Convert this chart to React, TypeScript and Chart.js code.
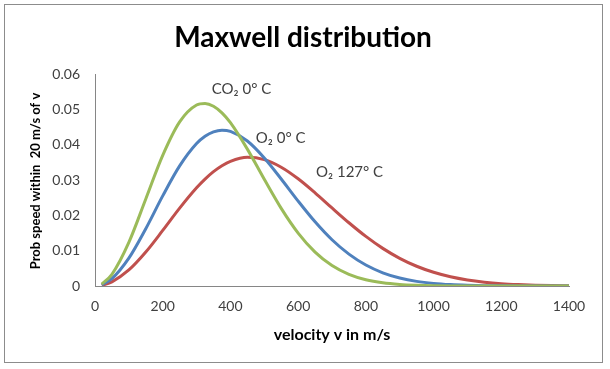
import React, { useEffect, useRef } from "react";
import { Chart, registerables } from "chart.js";

Chart.register(...registerables);

const velocities = [20, 50, 100, 150, 200, 250, 300, 325, 350, 375, 400, 450, 500, 550, 600, 650, 700, 750, 800, 850, 900, 950, 1000, 1050, 1100, 1150, 1200, 1250, 1300, 1350, 1400];

const co2At0C = [0.00054, 0.00332, 0.01236, 0.02464, 0.03697, 0.04645, 0.05124, 0.05168, 0.05089, 0.04901, 0.04622, 0.03874, 0.03019, 0.02196, 0.01497, 0.00958, 0.00578, 0.00329, 0.00176, 0.00089, 0.00043, 0.0002, 0.00008, 0.00003, 0.00001, 0.000005, 0.000002, 0.000001, 0, 0, 0];

const o2At0C = [0.00034, 0.00208, 0.00788, 0.01622, 0.0255, 0.03399, 0.04032, 0.04239, 0.04364, 0.04409, 0.04376, 0.04104, 0.03625, 0.03029, 0.02403, 0.01816, 0.01308, 0.00901, 0.00593, 0.00374, 0.00227, 0.00131, 0.00073, 0.00039, 0.0002, 0.0001, 0.00005, 0.00002, 0.00001, 0.000004, 0.000002];

const o2At127C = [0.00019, 0.00118, 0.00454, 0.00962, 0.01572, 0.02204, 0.0278, 0.03027, 0.03237, 0.03405, 0.03529, 0.03641, 0.03576, 0.03362, 0.03034, 0.02636, 0.02209, 0.0179, 0.01403, 0.01065, 0.00783, 0.00559, 0.00388, 0.00261, 0.00171, 0.00109, 0.00067, 0.00041, 0.00024, 0.00014, 0.00008];

const seriesNames = ["CO₂ 0° C", "O₂ 0° C", "O₂ 127° C"];
const seriesColors = ["#9BBB59", "#4F81BD", "#C0504D"];

// label anchor points in data units (velocity, probability)
const labelVelocities = [345, 475, 653];
const labelProbs = [0.0557, 0.0419, 0.0323];

const xTickValues = [0, 200, 400, 600, 800, 1000, 1200, 1400];
const yTickValues = [0, 0.01, 0.02, 0.03, 0.04, 0.05, 0.06];

const chartTitle = "Maxwell distribution";
const xAxisTitle = "velocity v in m/s";
const yAxisTitle = "Prob speed within  20 m/s of v";

const FONT = "Lato, 'Open Sans', sans-serif";

export default function App() {
  const ref = useRef<HTMLCanvasElement | null>(null);

  useEffect(() => {
    if (!ref.current) return;
    const series = [co2At0C, o2At0C, o2At127C];

    const frame = {
      id: "frame",
      beforeDraw(chart: any) {
        const ctx = chart.ctx;
        ctx.save();
        ctx.fillStyle = "#ffffff";
        ctx.fillRect(0, 0, chart.width, chart.height);
        ctx.strokeStyle = "#8c8c8c";
        ctx.lineWidth = 1;
        ctx.strokeRect(4.5, 4.5, 598, 358);
        ctx.restore();
      },
      afterDraw(chart: any) {
        const ctx = chart.ctx;
        const area = chart.chartArea;
        ctx.save();
        // chart title
        ctx.fillStyle = "#000000";
        ctx.font = `bold 28px ${FONT}`;
        ctx.textAlign = "center";
        ctx.textBaseline = "alphabetic";
        ctx.fillText(chartTitle, 303, 47);
        // x axis title
        ctx.font = `bold 16px ${FONT}`;
        ctx.textBaseline = "middle";
        ctx.fillText(xAxisTitle, (area.left + area.right) / 2, 335);
        // y axis title
        ctx.font = `bold 13px ${FONT}`;
        ctx.translate(36, (area.top + area.bottom) / 2 + 1);
        ctx.rotate(-Math.PI / 2);
        ctx.fillText(yAxisTitle, 0, 0);
        ctx.restore();
      },
    };

    const labels = {
      id: "seriesLabels",
      afterDatasetsDraw(chart: any) {
        const ctx = chart.ctx;
        const xs = chart.scales.x;
        const ys = chart.scales.y;
        ctx.save();
        ctx.fillStyle = "#404040";
        ctx.font = `15px ${FONT}`;
        ctx.textAlign = "left";
        ctx.textBaseline = "middle";
        seriesNames.forEach((name, i) => {
          ctx.fillText(name, xs.getPixelForValue(labelVelocities[i]), ys.getPixelForValue(labelProbs[i]));
        });
        ctx.restore();
      },
    };

    const chart = new Chart(ref.current, {
      type: "line",
      data: {
        datasets: series.map((vals, i) => ({
          label: seriesNames[i],
          data: velocities.map((v, j) => ({ x: v, y: vals[j] })),
          borderColor: seriesColors[i],
          backgroundColor: seriesColors[i],
          borderWidth: 3,
          pointRadius: 0,
          fill: false,
          cubicInterpolationMode: "monotone" as const,
        })),
      },
      options: {
        animation: false,
        responsive: false,
        maintainAspectRatio: false,
        layout: { padding: { left: 0, right: 41, top: 74, bottom: 0 } },
        plugins: {
          legend: { display: false },
          tooltip: { enabled: false },
          title: { display: false },
        },
        scales: {
          x: {
            type: "linear",
            min: 0,
            max: 1400,
            afterBuildTicks(scale: any) {
              scale.ticks = xTickValues.map((v) => ({ value: v }));
            },
            afterFit(scale: any) {
              scale.height = 83;
            },
            grid: { display: false, drawTicks: false },
            border: { display: true, color: "#868686", width: 1 },
            ticks: {
              color: "#404040",
              font: { family: FONT, size: 14 },
              padding: 12,
              maxRotation: 0,
              callback: (v: any) => String(v),
            },
            title: { display: false },
          },
          y: {
            type: "linear",
            min: 0,
            max: 0.06,
            afterBuildTicks(scale: any) {
              scale.ticks = yTickValues.map((v) => ({ value: v }));
            },
            afterFit(scale: any) {
              scale.width = 95;
            },
            grid: { display: false, drawTicks: false },
            border: { display: true, color: "#868686", width: 1 },
            ticks: {
              color: "#404040",
              font: { family: FONT, size: 14 },
              padding: 15,
              callback: (v: any) => (Number(v) === 0 ? "0" : Number(v).toFixed(2)),
            },
            title: { display: false },
          },
        },
      },
      plugins: [frame, labels],
    } as any);

    return () => chart.destroy();
  }, []);

  return (
    <div style={{ position: "absolute", left: 0, top: 0, width: 610, height: 369, background: "#fff" }}>
      <canvas ref={ref} width={610} height={369} />
    </div>
  );
}
